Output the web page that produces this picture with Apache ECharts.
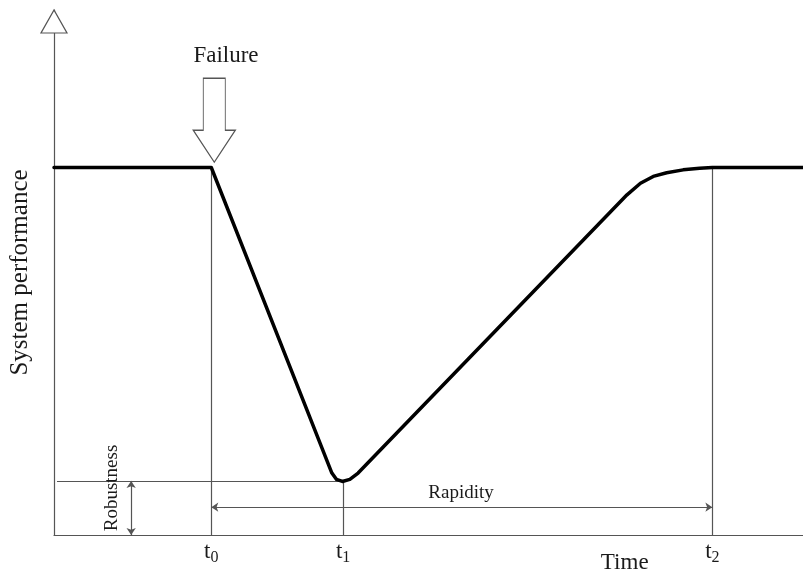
<!DOCTYPE html>
<html lang="en">
<head>
	<meta charset="utf-8">
	<title>System performance</title>
	<script src="https://cdn.jsdelivr.net/npm/echarts@6/dist/echarts.min.js"></script>
	<style>
		html, body { margin: 0; padding: 0; background: #fff; }
		#main { width: 803px; height: 573px; }
	</style>
</head>
<body>
	<div id="main"></div>
	<script type="text/javascript">
		// key instants on the time axis
		var t0 = 21.0, t1 = 38.6, t2 = 87.9;
		// performance levels
		var perfNormal = 70, perfMin = 10.3;
		// curve (time, performance)
		var curveTime = [0, 21.0, 37.1, 37.7, 38.5, 39.5, 40.6, 76.5, 78.3, 80.0, 81.8, 84.0, 86.2, 87.9, 100];
		var curvePerf = [70, 70, 11.8, 10.6, 10.2, 10.6, 11.8, 64.8, 67.0, 68.3, 69.0, 69.55, 69.85, 70, 70];
		// arrow positions
		var rapidityLevel = 5.3;
		var robustnessTime = 10.3;
		var failureArrow = [t0 + 0.4, 79];
		var axisArrowTop = 97.8;

		var serif = 'Liberation Serif';
		var gray = '#555';
		var txt = '#1a1a1a';

		var curve = curveTime.map(function (t, i) { return [t, curvePerf[i]]; });

		// a guide segment, with optional arrow heads
		function seg(a, b, s1, s2) {
			return [{ coord: a, symbol: s1 || 'none' }, { coord: b, symbol: s2 || 'none' }];
		}

		// text pinned to a data position
		function txtPoint(x, y, text, extra) {
			var lab = { show: true, position: [0, 0], align: 'center', verticalAlign: 'middle',
				formatter: text, fontFamily: serif, fontSize: 23, color: txt, textBorderWidth: 0 };
			for (var k in extra) lab[k] = extra[k];
			return { value: [x, y], label: lab };
		}

		var tRich = {
			t: { fontFamily: serif, fontSize: 23, color: txt },
			s: { fontFamily: serif, fontSize: 16, color: txt, padding: [11, 0, 0, 0] }
		};

		var myChart = echarts.init(document.getElementById('main'));
		var option = {
			backgroundColor: '#fff',
			animation: false,
			grid: { left: 54, right: 0, top: 10, bottom: 38 },
			xAxis: {
				type: 'value', min: 0, max: 100,
				axisLine: { lineStyle: { color: gray, width: 1.2 } },
				axisTick: { show: false }, axisLabel: { show: false }, splitLine: { show: false }
			},
			yAxis: {
				type: 'value', min: 0, max: 100,
				name: 'System performance', nameLocation: 'middle', nameGap: 21,
				nameTextStyle: { fontFamily: serif, fontSize: 25, color: txt },
				axisLine: { show: true, lineStyle: { color: gray, width: 1.2 } },
				axisTick: { show: false }, axisLabel: { show: false }, splitLine: { show: false }
			},
			series: [
				{
					name: 'guides',
					type: 'line',
					data: [],
					markLine: {
						silent: true,
						label: { show: false },
						lineStyle: { color: gray, width: 1.2, type: 'solid' },
						symbolSize: 7,
						data: [
							seg([t0, 0], [t0, perfNormal]),
							seg([t1, 0], [t1, perfMin]),
							seg([t2, 0], [t2, perfNormal]),
							seg([0.4, perfMin], [t1, perfMin]),
							seg([t0, rapidityLevel], [t2, rapidityLevel], 'arrow', 'arrow'),
							seg([robustnessTime, 0], [robustnessTime, perfMin], 'arrow', 'arrow')
						]
					}
				},
				{
					name: 'performance',
					type: 'line',
					data: curve,
					showSymbol: false,
					smooth: false,
					lineStyle: { color: '#000', width: 3.5, join: 'round', cap: 'round' },
					z: 5
				},
				{
					name: 'arrows',
					type: 'scatter',
					clip: false,
					silent: true,
					itemStyle: { color: '#fff', borderColor: gray, borderWidth: 1.2, opacity: 1 },
					data: [
						{ value: [0, axisArrowTop], symbol: 'triangle', symbolSize: [26, 23] },
						{ value: failureArrow, symbol: 'path://M10,0 L32,0 L32,52 L42,52 L21,84 L0,52 L10,52 Z',
							symbolSize: [42, 84] }
					],
					z: 6
				},
				{
					name: 'texts',
					type: 'scatter',
					clip: false,
					silent: true,
					symbolSize: 0,
					itemStyle: { opacity: 1 },
					data: [
						txtPoint(22.96, 91.3, 'Failure'),
						txtPoint(7.74, 8.95, 'Robustness', { rotate: 90, fontSize: 19 }),
						txtPoint(54.34, 8.0, 'Rapidity', { fontSize: 19 }),
						txtPoint(76.2, -5.3, 'Time'),
						txtPoint(t0, -3.3, '{t|t}{s|0}', { rich: tRich }),
						txtPoint(t1, -3.3, '{t|t}{s|1}', { rich: tRich }),
						txtPoint(t2, -3.3, '{t|t}{s|2}', { rich: tRich })
					],
					z: 7
				}
			]
		};
		myChart.setOption(option);
	</script>
</body>
</html>
